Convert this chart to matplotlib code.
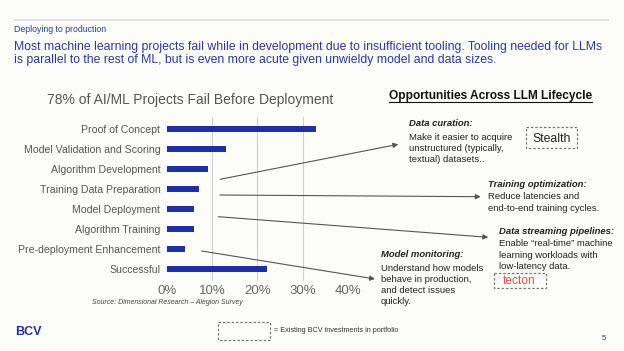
import matplotlib
matplotlib.use("Agg")
import matplotlib.pyplot as plt
from matplotlib.patches import Rectangle, FancyArrowPatch

plt.rcParams['font.family'] = ['Liberation Sans', 'DejaVu Sans']

# ---- data ----
categories = ["Proof of Concept", "Model Validation and Scoring", "Algorithm Development",
              "Training Data Preparation", "Model Deployment", "Algorithm Training",
              "Pre-deployment Enhancement", "Successful"]
values = [33, 13, 9, 7, 6, 6, 4, 22]
xticks = [0, 10, 20, 30, 40]
xtick_labels = ["0%", "10%", "20%", "30%", "40%"]

W, H = 624, 351
BG = "#fcfcf8"
BLUE = "#1c2fa6"
TXT_BLUE = "#2b3a99"
GRAY = "#555555"

fig = plt.figure(figsize=(W / 100, H / 100), dpi=100, facecolor=BG)

# ---- bar chart axes (pixel box: x 167.3..347.7, y 119..280) ----
ax = fig.add_axes([167.3 / W, 1 - 281 / H, (347.7 - 167.3) / W, (281 - 117) / H])
ax.set_facecolor("none")
ypos = list(range(len(categories)))
ax.barh(ypos, values, height=0.3, color=BLUE, zorder=3)
ax.set_ylim(len(categories) - 0.42, -0.58)
ax.set_xlim(0, 40)
ax.set_yticks(ypos)
ax.set_yticklabels(categories, fontsize=7.6, color=GRAY)
ax.set_xticks(xticks)
ax.set_xticklabels(xtick_labels, fontsize=9.5, color="#666666")
ax.tick_params(length=0)
ax.tick_params(axis='y', pad=5)
ax.tick_params(axis='x', pad=3)
for s in ax.spines.values():
    s.set_visible(False)
ax.grid(axis='x', color="#d0d0d0", lw=0.8, zorder=0)
ax.grid(axis='y', visible=False)
ax.get_xgridlines()[0].set_visible(False)

# ---- overlay axes in pixel coordinates ----
ov = fig.add_axes([0, 0, 1, 1], facecolor="none")
ov.set_xlim(0, W)
ov.set_ylim(H, 0)
ov.axis("off")

# header
ov.plot([14, 608], [20, 20], color="#dddddd", lw=1.2)
ov.text(14, 29.3, "Deploying to production", fontsize=6.3, color=TXT_BLUE, va="center")
ov.text(14, 50, "Most machine learning projects fail while in development due to insufficient tooling. "
        "Tooling needed for LLMs", fontsize=8.8, color=TXT_BLUE, va="baseline")
ov.text(14, 63, "is parallel to the rest of ML, but is even more acute given unwieldy model and data sizes.",
        fontsize=8.8, color=TXT_BLUE, va="baseline")

# chart title & source
ov.text(190, 100, "78% of AI/ML Projects Fail Before Deployment", fontsize=10, color=GRAY,
        ha="center", va="center")
ov.text(167.5, 303, "Source: Dimensional Research \u2013 Alegion Survey", fontsize=5.0,
        style="italic", color="#444444", ha="center", va="center")

# right panel
ov.text(490.5, 96, "Opportunities Across LLM Lifecycle", fontsize=8.6, fontweight="bold",
        color="#111111", ha="center", va="center")
ov.plot([389, 592], [102, 102], color="#111111", lw=0.8)

BODY = 6.8
TC = "#222222"

def block(x, y, title, lines, dy=11.5, gap=14):
    ov.text(x, y, title, fontsize=BODY, fontweight="bold", style="italic", color=TC, va="center")
    yy = y + gap
    for ln in lines:
        ov.text(x, yy, ln, fontsize=BODY, color=TC, va="center")
        yy += dy

block(409, 123.7, "Data curation:", ["Make it easier to acquire", "unstructured (typically,",
                                     "textual) datasets.."], dy=11, gap=14)
block(487.7, 184.3, "Training optimization:", ["Reduce latencies and",
                                               "end-to-end training cycles."], dy=11.6, gap=12.4)
block(499, 232, "Data streaming pipelines:", ["Enable \u201creal-time\u201d machine",
                                              "learning workloads with", "low-latency data."],
      dy=11.3, gap=12)
block(380.7, 254.3, "Model monitoring:", ["Understand how models", "behave in production,",
                                          "and detect issues", "quickly."], dy=11.2, gap=14)

# dashed boxes
def dbox(x0, y0, x1, y1):
    ov.add_patch(Rectangle((x0, y0), x1 - x0, y1 - y0, fill=False, ec="#777777",
                           lw=0.9, ls=(0, (2, 1.5))))

dbox(525.7, 127.3, 577.3, 148.3)
ov.text(551.7, 138.5, "Stealth", fontsize=8.8, color="#222222", ha="center", va="center")
dbox(494, 273.3, 545.7, 288.3)
ov.text(519.5, 281, "tecton", fontsize=8.6, color="#d9534f", ha="center", va="center")

# arrows
arrows = [((220, 179.3), (398.3, 144.3)),
          ((220, 195), (480.7, 196.7)),
          ((218.3, 216.7), (488.3, 237.3)),
          ((201.7, 251), (375, 279))]
for (a, b) in arrows:
    ov.add_patch(FancyArrowPatch(a, b, arrowstyle="-|>,head_length=3,head_width=1.5",
                                 color="#555555", lw=0.8, shrinkA=0, shrinkB=0))

# footer
ov.text(15, 332, "BCV", fontsize=9, fontweight="bold", color="#1f3299", va="center")
dbox(218, 322, 270, 340)
ov.text(274, 331, "= Existing BCV investments in portfolio", fontsize=5.2, color="#333333",
        va="center")
ov.text(602, 338, "5", fontsize=5.5, color="#2b3a99", va="center")

fig.savefig("out.png", dpi=100, facecolor=BG)
